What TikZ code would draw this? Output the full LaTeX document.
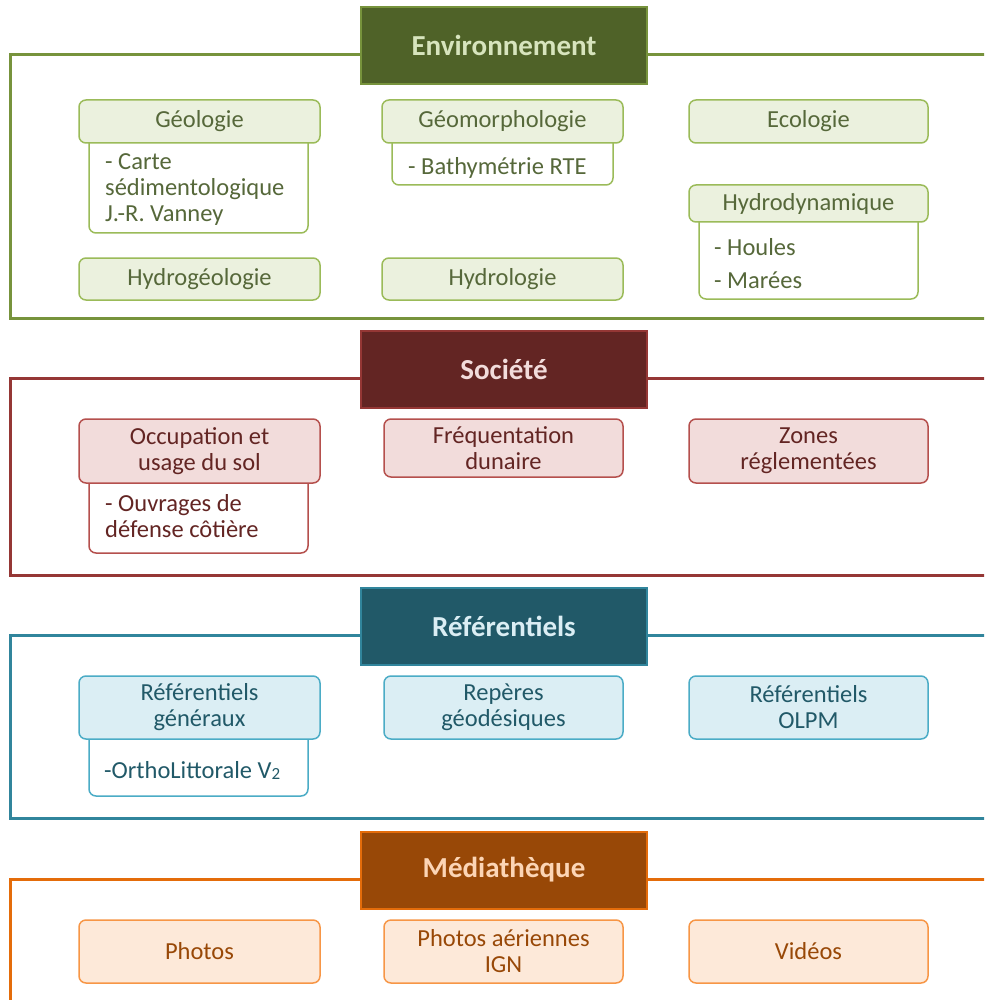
\documentclass[tikz,border=0pt]{standalone}
\usepackage{fontspec}
\setmainfont{Carlito}
\definecolor{gFrame}{HTML}{77933C}
\definecolor{gHead}{HTML}{4F6228}
\definecolor{gHeadTxt}{HTML}{D7E4BD}
\definecolor{gFill}{HTML}{EBF1DE}
\definecolor{gLine}{HTML}{9BBB59}
\definecolor{gTxt}{HTML}{56683A}
\definecolor{rFrame}{HTML}{953735}
\definecolor{rHead}{HTML}{632523}
\definecolor{rHeadTxt}{HTML}{F2DCDB}
\definecolor{rFill}{HTML}{F2DCDB}
\definecolor{rLine}{HTML}{B5504D}
\definecolor{rTxt}{HTML}{632523}
\definecolor{bFrame}{HTML}{31859C}
\definecolor{bHead}{HTML}{215968}
\definecolor{bHeadTxt}{HTML}{DBEEF4}
\definecolor{bFill}{HTML}{DBEEF4}
\definecolor{bLine}{HTML}{4BACC6}
\definecolor{bTxt}{HTML}{215968}
\definecolor{oFrame}{HTML}{E46C0A}
\definecolor{oHead}{HTML}{984807}
\definecolor{oHeadTxt}{HTML}{FCD5B5}
\definecolor{oFill}{HTML}{FDE9D9}
\definecolor{oLine}{HTML}{F79646}
\definecolor{oTxt}{HTML}{984807}
\tikzset{
  x=1pt, y=-1pt,
  frame/.style={draw=#1, line width=3pt},
  head/.style={draw=#1Frame, fill=#1Head, text=#1HeadTxt, line width=2pt,
    minimum width=286pt, minimum height=77pt, inner sep=0pt,
    font=\fontsize{29}{32}\selectfont\bfseries},
  topic/.style={draw=#1Line, fill=#1Fill, text=#1Txt, line width=1.5pt,
    rounded corners=7pt, inner sep=0pt, align=center,
    font=\fontsize{24.5}{26}\selectfont},
  detail/.style={draw=#1Line, fill=white, line width=1.5pt,
    rounded corners=7pt, inner sep=0pt},
  dtext/.style={text=#1Txt, inner sep=0pt, anchor=base west,
    font=\fontsize{24.5}{26}\selectfont},
}
\begin{document}
\begin{tikzpicture}
\useasboundingbox (0,0) rectangle (984,1000);
\clip (0,0) rectangle (984,1000);
\fill[white] (0,0) rectangle (984,1000);

% ---------------- Environnement ----------------
\draw[frame=gFrame] (10,55) rectangle (1000,318);
\node[head=g] (env) at (504,45.5) {Environnement};

\draw[detail=g] (89,121) rectangle (308,233);
\node[topic=g, minimum width=241pt, minimum height=43pt] (geol) at (199.5,121.5) {Géologie};
\node[dtext=g] (geol1) at (105,170) {- Carte};
\node[dtext=g] (geol2) at (105,196) {sédimentologique};
\node[dtext=g] (geol3) at (105,222) {J.-R. Vanney};

\draw[detail=g] (392,121) rectangle (613,185);
\node[topic=g, minimum width=241pt, minimum height=43pt] (geom) at (502.5,121.5) {Géomorphologie};
\node[dtext=g] (geom1) at (408,175) {- Bathymétrie RTE};

\node[topic=g, minimum width=239pt, minimum height=43pt] (eco) at (808.5,121.5) {Ecologie};

\draw[detail=g] (699,203) rectangle (918,299);
\node[topic=g, minimum width=239pt, minimum height=37pt] (hdyn) at (808.5,203.5) {Hydrodynamique};
\node[dtext=g] (hdyn1) at (714,255) {- Houles};
\node[dtext=g] (hdyn2) at (714,288) {- Marées};

\node[topic=g, minimum width=241pt, minimum height=42pt] (hgeo) at (199.5,279) {Hydrogéologie};
\node[topic=g, minimum width=241pt, minimum height=42pt] (hydro) at (502.5,279) {Hydrologie};

% ---------------- Société ----------------
\draw[frame=rFrame] (10,378) rectangle (1000,575);
\node[head=r] (soc) at (504,369.5) {Société};

\draw[detail=r] (89,451) rectangle (308,553);
\node[topic=r, minimum width=241pt, minimum height=64pt] (occ) at (199.5,451) {Occupation et\\usage du sol};
\node[dtext=r] (occ1) at (105,511) {- Ouvrages de};
\node[dtext=r] (occ2) at (105,537) {défense côtière};

\node[topic=r, minimum width=239pt, minimum height=58pt] (freq) at (503.5,448) {Fréquentation\\dunaire};
\node[topic=r, minimum width=239pt, minimum height=64pt] (zones) at (808.5,451) {Zones\\réglementées};

% ---------------- Référentiels ----------------
\draw[frame=bFrame] (10,635) rectangle (1000,818);
\node[head=b] (ref) at (504,626) {Référentiels};

\draw[detail=b] (89,707) rectangle (308,796);
\node[topic=b, minimum width=241pt, minimum height=63pt] (refg) at (199.5,707.5) {Référentiels\\généraux};
\node[dtext=b] (refg1) at (104,778) {-OrthoLittorale V\raisebox{-0.1ex}{\fontsize{17}{17}\selectfont 2}};

\node[topic=b, minimum width=239pt, minimum height=63pt] (rep) at (503.5,707.5) {Repères\\géodésiques};
\node[topic=b, minimum width=239pt, minimum height=63pt] (olpm) at (808.5,707.5) {Référentiels\\OLPM};

% ---------------- Médiathèque ----------------
\draw[frame=oFrame] (10,879) rectangle (1000,1040);
\node[head=o] (med) at (504,870) {Médiathèque};

\node[topic=o, minimum width=241pt, minimum height=63pt] (photos) at (199.5,951.5) {Photos};
\node[topic=o, minimum width=239pt, minimum height=63pt] (aer) at (503.5,951.5) {Photos aériennes\\IGN};
\node[topic=o, minimum width=239pt, minimum height=63pt] (vid) at (808.5,951.5) {Vidéos};
\end{tikzpicture}
\end{document}
